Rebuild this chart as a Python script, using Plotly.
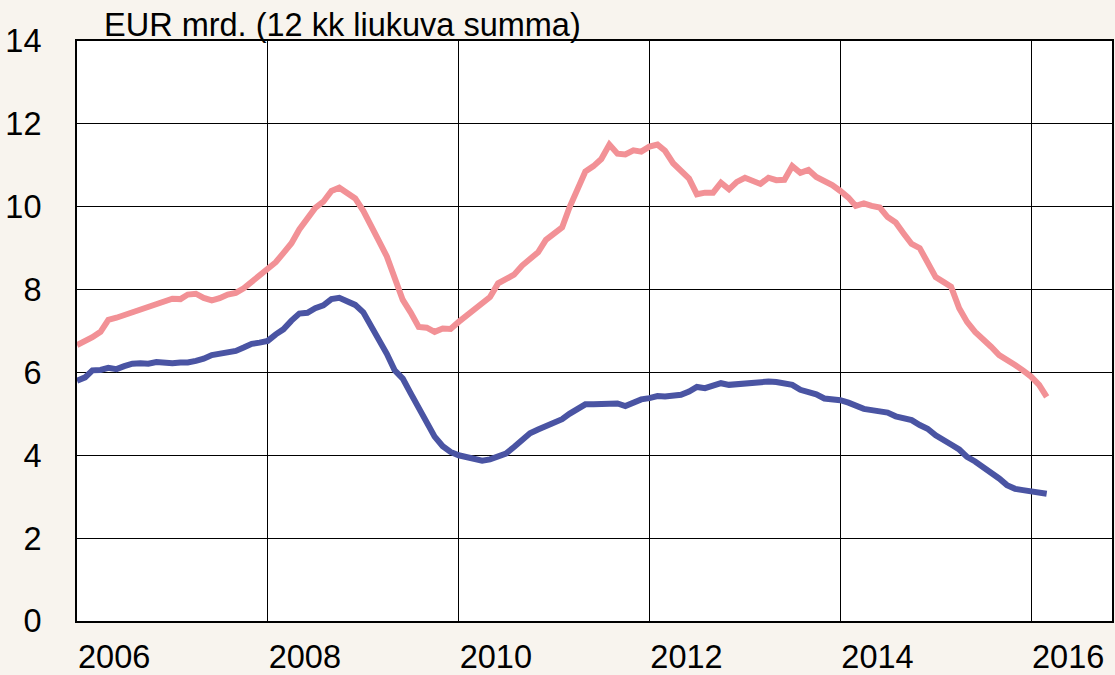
import pandas as pd
import plotly.graph_objects as go

# Monthly observations, Jan 2006 .. Mar 2016 (EUR bn, 12-month rolling sum)
start_month = "2006-01-01"

pink_values = [
    6.66, 6.75, 6.85, 6.98, 7.27, 7.32, 7.38, 7.45, 7.52, 7.57, 7.65, 7.72,
    7.78, 7.77, 7.88, 7.90, 7.80, 7.74, 7.79, 7.88, 7.92, 8.03, 8.18, 8.35,
    8.50, 8.66, 8.88, 9.12, 9.45, 9.72, 9.97, 10.12, 10.38, 10.46, 10.32, 10.20,
    9.90, 9.55, 9.18, 8.80, 8.30, 7.75, 7.45, 7.10, 7.08, 6.98, 7.06, 7.05,
    7.22, 7.38, 7.52, 7.70, 7.82, 8.15, 8.25, 8.36, 8.58, 8.72, 8.90, 9.20,
    9.33, 9.50, 9.98, 10.42, 10.85, 10.98, 11.15, 11.50, 11.28, 11.26, 11.36, 11.33,
    11.45, 11.50, 11.35, 11.05, 10.85, 10.68, 10.30, 10.34, 10.34, 10.58, 10.42, 10.60,
    10.70, 10.60, 10.55, 10.70, 10.64, 10.65, 10.98, 10.82, 10.89, 10.72, 10.62, 10.52,
    10.38, 10.22, 10.02, 10.08, 10.02, 9.98, 9.75, 9.62, 9.35, 9.10, 9.00, 8.65,
    8.30, 8.18, 8.07, 7.55, 7.22, 6.98, 6.82, 6.62, 6.42, 6.32, 6.18, 6.05,
    5.90, 5.70, 5.41,
]

blue_values = [
    5.80, 5.88, 6.05, 6.06, 6.11, 6.08, 6.15, 6.21, 6.22, 6.21, 6.25, 6.22,
    6.22, 6.24, 6.24, 6.28, 6.33, 6.42, 6.46, 6.49, 6.52, 6.60, 6.69, 6.72,
    6.76, 6.92, 7.04, 7.25, 7.42, 7.44, 7.55, 7.62, 7.77, 7.80, 7.72, 7.63,
    7.45, 7.12, 6.80, 6.45, 6.05, 5.85, 5.50, 5.15, 4.75, 4.45, 4.22, 4.08,
    4.00, 3.95, 3.90, 3.87, 3.90, 3.96, 4.04, 4.20, 4.38, 4.53, 4.62, 4.70,
    4.78, 4.87, 5.00, 5.10, 5.23, 5.23, 5.23, 5.22, 5.25, 5.19, 5.27, 5.35,
    5.38, 5.43, 5.42, 5.43, 5.46, 5.54, 5.65, 5.62, 5.68, 5.74, 5.70, 5.72,
    5.73, 5.76, 5.77, 5.78, 5.77, 5.75, 5.70, 5.58, 5.52, 5.47, 5.37, 5.36,
    5.33, 5.27, 5.18, 5.12, 5.09, 5.07, 5.03, 4.94, 4.90, 4.85, 4.73, 4.64,
    4.48, 4.38, 4.26, 4.14, 3.96, 3.85, 3.72, 3.60, 3.44, 3.28, 3.19, 3.16,
    3.13, 3.09, 3.07,
]

y_tick_values = [0, 2, 4, 6, 8, 10, 12, 14]
x_tick_labels = ["2006", "2008", "2010", "2012", "2014", "2016"]
title_text = "EUR mrd. (12 kk liukuva summa)"

dates = pd.date_range(start_month, periods=len(pink_values), freq="MS")
x_tick_dates = [f"{y}-01-01" for y in x_tick_labels]

PINK = "#f29196"
BLUE = "#4a54a3"
BG = "#f8f4ee"
FONT = "Liberation Sans, Arial, sans-serif"
FS = 32.5

fig = go.Figure()
fig.add_trace(go.Scatter(x=dates, y=pink_values, mode="lines",
                         line=dict(color=PINK, width=6), hoverinfo="skip"))
fig.add_trace(go.Scatter(x=dates, y=blue_values, mode="lines",
                         line=dict(color=BLUE, width=6), hoverinfo="skip"))

fig.update_layout(
    width=1115, height=675,
    margin=dict(l=77, r=3, t=41, b=54, autoexpand=False),
    paper_bgcolor=BG, plot_bgcolor="white",
    showlegend=False,
    font=dict(family=FONT, size=FS, color="black"),
)
fig.update_xaxes(
    type="date",
    range=["2006-01-01", "2016-11-06"],
    tickvals=x_tick_dates, ticktext=x_tick_labels,
    ticklabelposition="outside right",
    ticks="", ticklabelstandoff=6,
    showgrid=True, gridcolor="black", gridwidth=1,
    showline=True, linecolor="black", linewidth=2, mirror=True,
    zeroline=False, automargin=False,
    tickfont=dict(size=FS),
)
fig.update_yaxes(
    range=[0, 14],
    tickvals=y_tick_values,
    ticks="", ticklabelstandoff=27,
    showgrid=True, gridcolor="black", gridwidth=1,
    showline=True, linecolor="black", linewidth=2, mirror=True,
    zeroline=False, automargin=False,
    tickfont=dict(size=FS),
)
fig.add_annotation(
    text=title_text, xref="paper", yref="paper",
    x=(102 - 77) / 1035, y=1 + (41 - 25) / 580,
    xanchor="left", yanchor="middle", showarrow=False,
    font=dict(size=FS, family=FONT, color="black"),
)

fig.write_html(
    "out.html",
    config={"displayModeBar": False},
    post_script="document.body.style.margin='0';document.body.style.background='" + BG + "';",
)
